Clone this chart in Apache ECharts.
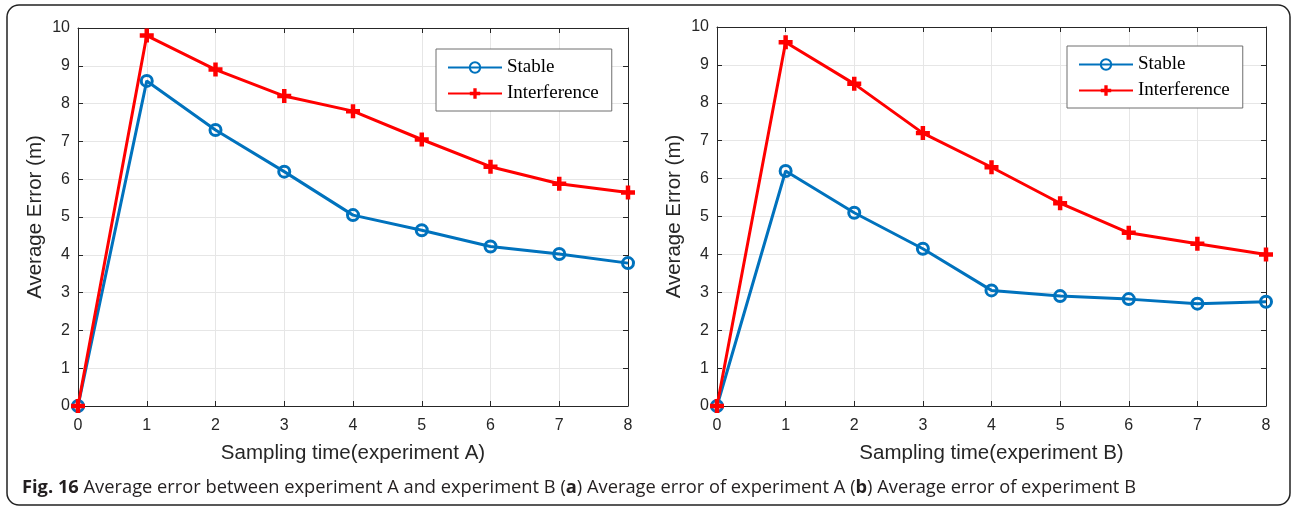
<!DOCTYPE html>
<html><head><meta charset="utf-8">
<script src="https://cdn.jsdelivr.net/npm/echarts@6/dist/echarts.min.js"></script>
<style>html,body{margin:0;padding:0;background:#fff}#c{width:1293px;height:510px}</style>
</head><body><div id="c"></div>
<script>
const sampleTimes = [0,1,2,3,4,5,6,7,8];
const stableA = [0, 8.6, 7.3, 6.2, 5.05, 4.65, 4.22, 4.02, 3.78];
const interferenceA = [0, 9.8, 8.9, 8.2, 7.8, 7.05, 6.33, 5.88, 5.65];
const stableB = [0, 6.2, 5.1, 4.15, 3.05, 2.9, 2.82, 2.7, 2.75];
const interferenceB = [0, 9.6, 8.5, 7.2, 6.3, 5.35, 4.57, 4.28, 4.0];
const seriesNames = ['Stable', 'Interference'];
const xNames = ['Sampling time(experiment A)', 'Sampling time(experiment B)'];
const yName = 'Average Error (m)';
const caption = '{b|Fig. 16} Average error between experiment A and experiment B ({b|a}) Average error of experiment A ({b|b}) Average error of experiment B';

const BLUE = '#0072BD', RED = '#FF0000', AX = '#262626';
const PLUS = 'path://M3.4,0H6.6V3.4H10V6.6H6.6V10H3.4V6.6H0V3.4H3.4Z';
const pairs = (ys) => sampleTimes.map((x, i) => [x, ys[i]]);

const grids = [
  {left: 78, top: 28, width: 550, height: 378},
  {left: 717, top: 27, width: 549, height: 379}
];
const tick = {show: true, inside: true, length: 5, lineStyle: {color: AX, width: 1}};
const line = {show: true, onZero: false, lineStyle: {color: AX, width: 1}};
const xAxes = [], yAxes = [];
grids.forEach((g, gi) => {
  xAxes.push({
    type: 'value', gridIndex: gi, min: 0, max: 8, interval: 1, position: 'bottom',
    name: xNames[gi], nameLocation: 'middle', nameGap: 37,
    nameTextStyle: {fontFamily: 'Liberation Sans', fontSize: 20.5, color: AX},
    axisLine: line, axisTick: tick,
    axisLabel: {fontFamily: 'Liberation Sans', fontSize: 16, color: AX, margin: 12},
    splitLine: {show: true, lineStyle: {color: '#e6e6e6', width: 1}}
  });
  xAxes.push({
    type: 'value', gridIndex: gi, min: 0, max: 8, interval: 1, position: 'top',
    axisLine: line, axisTick: tick,
    axisLabel: {show: false}, splitLine: {show: false}
  });
  yAxes.push({
    type: 'value', gridIndex: gi, min: 0, max: 10, interval: 1, position: 'left',
    name: yName, nameLocation: 'middle', nameGap: 32, nameRotate: 90,
    nameTextStyle: {fontFamily: 'Liberation Sans', fontSize: 20.5, color: AX},
    axisLine: line, axisTick: tick,
    axisLabel: {fontFamily: 'Liberation Sans', fontSize: 16, color: AX, margin: 8},
    splitLine: {show: true, lineStyle: {color: '#e6e6e6', width: 1}}
  });
  yAxes.push({
    type: 'value', gridIndex: gi, min: 0, max: 10, interval: 1, position: 'right',
    axisLine: line, axisTick: tick,
    axisLabel: {show: false}, splitLine: {show: false}
  });
});

function stableSeries(data, gi) {
  return {
    name: seriesNames[0], type: 'line', xAxisIndex: gi * 2, yAxisIndex: gi * 2,
    data: pairs(data), symbol: 'circle', symbolSize: 11,
    lineStyle: {color: BLUE, width: 3},
    itemStyle: {color: 'rgba(255,255,255,0)', borderColor: BLUE, borderWidth: 3},
    animation: false
  };
}
function interfSeries(data, gi) {
  return {
    name: seriesNames[1], type: 'line', xAxisIndex: gi * 2, yAxisIndex: gi * 2,
    data: pairs(data), symbol: PLUS, symbolSize: 14,
    lineStyle: {color: RED, width: 3},
    itemStyle: {color: RED},
    animation: false
  };
}

const legendCommon = {
  orient: 'vertical', itemWidth: 54, itemHeight: 13, itemGap: 7,
  backgroundColor: '#fff', borderColor: '#6e6e6e', borderWidth: 1,
  padding: [9, 13, 8, 11],
  textStyle: {fontFamily: 'Liberation Serif', fontSize: 19, color: '#000', lineHeight: 19},
  data: seriesNames
};

const chart = echarts.init(document.getElementById('c'), null, {renderer: 'canvas'});
chart.setOption({
  backgroundColor: '#fff',
  animation: false,
  grid: grids,
  xAxis: xAxes,
  yAxis: yAxes,
  legend: [
    Object.assign({left: 436, top: 49}, legendCommon),
    Object.assign({left: 1067, top: 46}, legendCommon)
  ],
  series: [
    stableSeries(stableA, 0), interfSeries(interferenceA, 0),
    stableSeries(stableB, 1), interfSeries(interferenceB, 1)
  ],
  graphic: [
    {type: 'rect', shape: {x: 7, y: 5, width: 1283, height: 500, r: 12},
     style: {fill: 'none', stroke: '#222', lineWidth: 1.5}, silent: true, z: -1},
    {type: 'text', x: 22, y: 488,
     style: {text: caption, fontFamily: 'Open Sans', fontSize: 18.3, fill: '#231f20',
             verticalAlign: 'middle',
             rich: {b: {fontWeight: 'bold', fontFamily: 'Open Sans', fontSize: 18.3, fill: '#231f20'}}}}
  ]
});
</script></body></html>
